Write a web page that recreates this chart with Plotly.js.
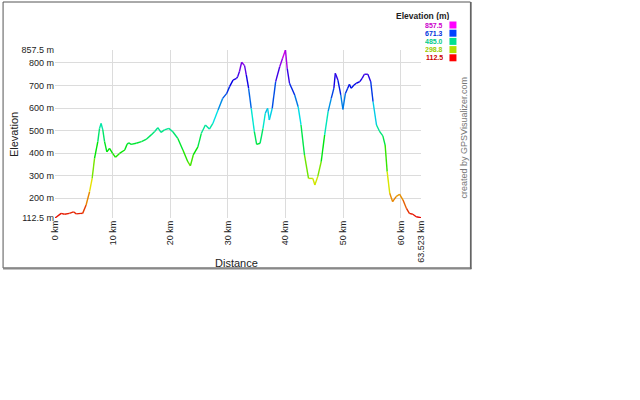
<!DOCTYPE html>
<html>
<head>
<meta charset="utf-8">
<script src="https://cdn.plot.ly/plotly-3.0.1.min.js"></script>
<style>
html,body{margin:0;padding:0;background:#fff;}
#chart{width:640px;height:400px;}
</style>
</head>
<body>
<div id="chart"></div>
<script>
const distanceKm = [0,1.07,1.65,2.5,3.2,3.7,4.5,4.8,5.4,6.0,6.45,6.86,7.43,7.73,8.0,8.3,8.6,9.0,9.46,10.0,10.5,11.2,12.1,12.5,12.8,13.2,14.1,15.0,15.8,16.7,17.3,17.85,18.4,19.0,19.76,20.45,21.3,22.2,23.05,23.5,24.0,24.8,25.4,26.1,26.8,27.4,28.3,29.1,29.8,30.3,30.9,31.5,31.7,32.0,32.4,32.9,33.2,33.6,34.06,34.6,35.0,35.6,36.1,36.5,36.9,37.2,37.7,38.3,39.0,39.5,40.0,40.3,40.7,41.6,42.2,42.7,43.3,44.0,44.75,45.1,45.6,46.2,46.8,47.4,47.95,48.4,48.65,49.1,49.6,49.97,50.4,50.8,51.1,51.4,51.9,52.3,52.9,53.3,53.7,54.3,54.8,55.2,55.8,56.3,56.9,57.3,57.65,58.1,58.6,59.2,59.8,60.4,61.0,61.5,62.1,62.7,63.523];
const elevationM = [112.5,133,129,133,140,131,133,133,170,229,288,377,451,510,532,503,451,406,421,399,382,399,414,439,446,439,444,451,461,481,496,513,492,503,510,495,466,414,362,344,392,428,488,525,507,532,591,643,665,695,724,732,739,761,803,788,747,688,599,495,439,444,510,577,599,547,599,717,783,821,857.5,776,710,658,606,525,392,288,288,259,296,362,481,584,643,688,754,724,658,594,665,688,705,688,702,710,717,732,750,750,717,628,525,498,477,436,318,222,185,207,218,192,155,133,129,118,114];
const yTickVals = [112.5,200,300,400,500,600,700,800,857.5];
const yTickText = ["112.5 m","200 m","300 m","400 m","500 m","600 m","700 m","800 m","857.5 m"];
const xTickVals = [0,10,20,30,40,50,60,63.523];
const xTickText = ["0 km","10 km","20 km","30 km","40 km","50 km","60 km","63.523 km"];
const legendVals = ["857.5","671.3","485.0","298.8","112.5"];
const legendText = ["#cc00cc","#0033dd","#00cc88","#99cc00","#cc0000"];
const legendSwatch = ["#ff00ff","#0040ff","#00e090","#b0e000","#ff0000"];

const eMin = 112.5, eMax = 857.5;
function colorFor(e){
  const t = Math.max(0, Math.min(1, (e - eMin) / (eMax - eMin)));
  const h = 300 * t;
  return "hsl(" + h.toFixed(1) + ",100%,45%)";
}

const traces = [];
for (let i = 0; i < distanceKm.length - 1; i++) {
  traces.push({
    type: "scatter", mode: "lines",
    x: [distanceKm[i], distanceKm[i+1]],
    y: [elevationM[i], elevationM[i+1]],
    line: {color: colorFor((elevationM[i] + elevationM[i+1]) / 2), width: 1.4},
    hoverinfo: "skip", showlegend: false
  });
}

// pixel -> paper helpers (plot area x 55..421.5, y 50..218)
const L = 55, R = 421.5, T = 50, B = 218;
const px = x => (x - L) / (R - L);
const py = y => (B - y) / (B - T);

const font = "Liberation Sans, Arial, sans-serif";
const shapes = [
  {type:"rect", xref:"paper", yref:"paper", x0:px(3), x1:px(471), y0:py(2), y1:py(268),
   line:{color:"#555", width:1}, fillcolor:"rgba(0,0,0,0)"},
  {type:"line", xref:"paper", yref:"paper", x0:px(3), x1:px(472), y0:py(268.5), y1:py(268.5),
   line:{color:"#888", width:2}},
  {type:"line", xref:"paper", yref:"paper", x0:px(471.5), x1:px(471.5), y0:py(2), y1:py(269),
   line:{color:"#666", width:1.5}}
];
const annotations = [
  {xref:"paper", yref:"paper", x:px(14), y:py(135), text:"Elevation", textangle:-90,
   showarrow:false, font:{family:font, size:11, color:"#222"}, xanchor:"center", yanchor:"middle"},
  {xref:"paper", yref:"paper", x:px(237), y:py(263), text:"Distance",
   showarrow:false, font:{family:font, size:11, color:"#222"}, xanchor:"center", yanchor:"middle"},
  {xref:"paper", yref:"paper", x:px(453), y:py(15), text:"<b>Elevation (m)</b>", height:9,
   showarrow:false, font:{family:font, size:8.5, color:"#222"}, xanchor:"right", yanchor:"middle"},
  {xref:"paper", yref:"paper", x:px(465), y:py(138), text:"created by GPSVisualizer.com", textangle:-90,
   showarrow:false, font:{family:font, size:9, color:"#777"}, xanchor:"center", yanchor:"middle"}
];
legendVals.forEach((v, i) => {
  const yc = 25 + i * 8.2;
  annotations.push({xref:"paper", yref:"paper", x:px(446), y:py(yc), text:"<b>" + v + "</b>", height:7,
    showarrow:false, font:{family:font, size:7, color:legendText[i]}, xanchor:"right", yanchor:"middle"});
  shapes.push({type:"rect", xref:"paper", yref:"paper", x0:px(450), x1:px(457), y0:py(yc+3.5), y1:py(yc-3.5),
    line:{width:0}, fillcolor:legendSwatch[i]});
});

const layout = {
  width: 640, height: 400,
  margin: {l: L, r: 640 - R, t: T, b: 400 - B, pad: 0},
  paper_bgcolor: "#fff", plot_bgcolor: "#fff",
  showlegend: false,
  xaxis: {range: [0, 63.523], tickmode: "array", tickvals: xTickVals, ticktext: xTickText,
    tickangle: -90, showgrid: true, gridcolor: "#dcdcdc", gridwidth: 1, zeroline: false,
    showline: false, ticks: "", tickfont: {family: font, size: 9, color: "#222"}, fixedrange: true},
  yaxis: {range: [112.5, 857.5], tickmode: "array", tickvals: yTickVals, ticktext: yTickText,
    showgrid: true, gridcolor: "#dcdcdc", gridwidth: 1, zeroline: false, showline: false,
    ticks: "", tickfont: {family: font, size: 9, color: "#222"}, fixedrange: true},
  shapes: shapes, annotations: annotations
};
Plotly.newPlot("chart", traces, layout, {staticPlot: true, displayModeBar: false});
</script>
</body>
</html>
